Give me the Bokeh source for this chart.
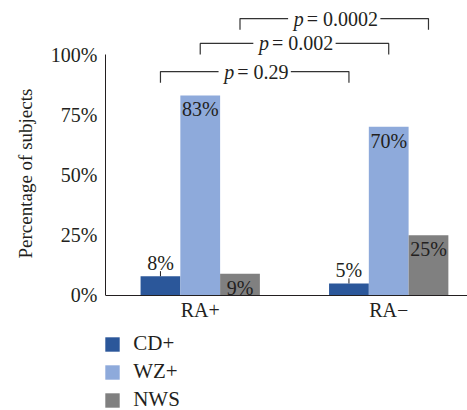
from bokeh.plotting import figure
from bokeh.models import (Range1d, FixedTicker, PrintfTickFormatter, Legend,
                          LegendItem, ColumnDataSource, Title)
from bokeh.embed import file_html
from bokeh.resources import INLINE

# ---------------- data ----------------
groups = ["RA+", "RA−"]
series = ["CD+", "WZ+", "NWS"]
cd_plus = [8, 5]
wz_plus = [83, 70]
nws = [9, 25]
colors = ["#2b579a", "#8eaadb", "#808080"]
p_values = ["0.29", "0.002", "0.0002"]
y_ticks = [0, 25, 50, 75, 100]
y_label = "Percentage of subjects"

# ---------------- style ----------------
FONT = "Liberation Serif"
TXT = "#231f20"
FS = "20px"

W, H = 467, 410
p = figure(width=W, height=H, output_backend="svg", toolbar_location=None,
           x_range=Range1d(-0.5026, 1.418), y_range=Range1d(-47.72, 122.41),
           min_border_left=104, min_border_right=0, min_border_top=0,
           min_border_bottom=0)
p.outline_line_color = None
p.xgrid.visible = False
p.ygrid.visible = False
p.background_fill_color = "white"
p.border_fill_color = "white"

# axes
p.yaxis.bounds = (0, 100)
p.yaxis.ticker = FixedTicker(ticks=y_ticks)
p.yaxis.formatter = PrintfTickFormatter(format="%d%%")
p.yaxis.major_label_standoff = 8

ytitle = Title(text=y_label, align="left", offset=152, standoff=24,
               text_font=FONT, text_font_style="normal",
               text_font_size="19px", text_color=TXT)
p.add_layout(ytitle, "left")

p.xaxis.fixed_location = 0
p.xaxis.ticker = FixedTicker(ticks=list(range(len(groups))))
p.xaxis.major_label_overrides = {i: g for i, g in enumerate(groups)}
p.xaxis.major_label_standoff = 4

for ax in (p.xaxis, p.yaxis):
    ax.major_tick_out = 0
    ax.major_tick_in = 0
    ax.minor_tick_out = 0
    ax.minor_tick_in = 0
    ax.axis_line_color = "#231f20"
    ax.axis_line_width = 1
    ax.major_label_text_font = FONT
    ax.major_label_text_font_size = FS
    ax.major_label_text_color = TXT

# ---------------- bars ----------------
bar_w = 0.211
offsets = [-bar_w, 0.0, bar_w]
all_vals = [cd_plus, wz_plus, nws]
renderers = []
centers = []
for i, (name, vals, col) in enumerate(zip(series, all_vals, colors)):
    xs = [g + offsets[i] for g in range(len(groups))]
    centers.append(xs)
    src = ColumnDataSource(dict(x=xs, top=vals,
                                lead=[v + 2.1 for v in vals],
                                lab=[f"{v}%" for v in vals]))
    r = p.vbar(x="x", top="top", width=bar_w, source=src,
               fill_color=col, line_color=None)
    renderers.append(r)
    if i == 0:
        # labels above with short leader line
        p.segment(x0="x", y0="top", x1="x", y1="lead",
                  source=src, line_color=TXT, line_width=1)
        p.text(x="x", y="top", text="lab", source=src, y_offset=-13,
               text_align="center", text_baseline="alphabetic",
               text_font=FONT, text_font_size=FS, text_color=TXT)
    else:
        p.text(x="x", y="top", text="lab", source=src, y_offset=3,
               text_align="center", text_baseline="top",
               text_font=FONT, text_font_size=FS, text_color=TXT)

# ---------------- significance brackets ----------------
bracket_y = [92.9, 104.6, 114.9]
drop = 4.6
for i, pv in enumerate(p_values):
    x0 = centers[i][0]
    x1 = centers[i][1]
    y = bracket_y[i]
    p.line(x=[x0, x0, x1, x1], y=[y - drop, y, y, y - drop],
           line_color="#333333", line_width=1.2)
    xc = (x0 + x1) / 2
    full = "p = " + pv
    # white mask behind the whole expression (gap in the bracket line)
    p.text(x=[xc], y=[y], text=[full], text_align="center",
           text_baseline="middle", text_font=FONT, text_font_size="20px",
           text_alpha=0, background_fill_color="white", padding=3)
    ndig = len(pv.replace(".", ""))
    rest_w = 15 + 10 * ndig + 5
    split = (15 - rest_w) / 2.0
    p.text(x=[xc], y=[y], text=["= " + pv], x_offset=split,
           text_align="left", text_baseline="middle",
           text_font=FONT, text_font_size="20px", text_color=TXT)
    p.text(x=[xc], y=[y], text=["p"], x_offset=split - 3,
           text_align="right", text_baseline="middle",
           text_font=FONT, text_font_style="italic", text_font_size="20px",
           text_color=TXT)

# ---------------- legend ----------------
legend = Legend(items=[LegendItem(label=s, renderers=[r])
                       for s, r in zip(series, renderers)],
                location=(-1.8, -2), orientation="vertical")
legend.padding = 0
legend.margin = 0
legend.spacing = 3
legend.glyph_width = 18
legend.glyph_height = 18
legend.label_height = 23
legend.label_standoff = 12
legend.border_line_color = None
legend.background_fill_alpha = 0
legend.label_text_font = FONT
legend.label_text_font_size = "21px"
legend.label_text_color = TXT
p.add_layout(legend, "center")

open("out.html", "w").write(file_html(p, INLINE))
